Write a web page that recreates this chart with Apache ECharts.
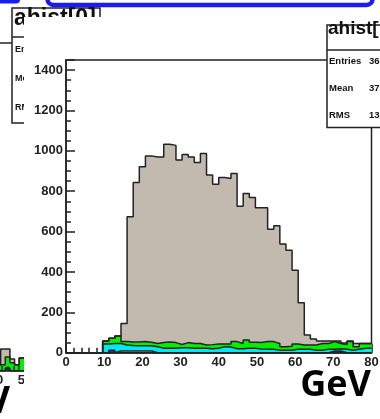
<!DOCTYPE html>
<html><head><meta charset="utf-8">
<script src="https://cdn.jsdelivr.net/npm/echarts@6/dist/echarts.min.js"></script>
<style>html,body{margin:0;padding:0;background:#fff;}#c{width:380px;height:419px;}</style>
</head><body><div id="c"></div>
<script>
// ---- main histogram: 50 bins, 1.6 GeV wide, 0-80 GeV (stack tops) ----
const binStart = 0;
const binWidth = 1.6;
const xTickLabels = [0,10,20,30,40,50,60,70,80];
const yTickLabels = [0,200,400,600,800,1000,1200,1400];
const stackTotal = [0,0,0,0,0,0,58,71,83,145,673,843,921,975,970,970,1033,1027,954,982,
  970,942,987,880,834,868,863,888,726,789,769,718,718,612,629,538,508,409,248,88,
  68,58,58,58,58,48,58,45,46,46];
const stackGreen = [0,0,0,0,0,0,58,71,83,55,53,53,55,52,46,50,53,50,41,50,
  46,46,38,40,43,43,43,55,46,63,52,50,55,55,46,30,32,43,38,38,
  38,46,46,55,46,40,55,30,46,46];
const stackCyan = [0,0,0,0,0,0,43,45,46,38,36,35,35,34,30,22,22,22,25,25,
  22,22,22,20,22,30,28,20,20,22,22,18,17,17,12,12,12,17,17,17,
  12,12,17,17,20,17,12,17,22,22];
const stackLight = [0,0,0,0,0,0,0,0,8,8,8,8,8,8,0,0,0,0,0,0,
  0,0,0,0,0,0,0,0,0,0,0,0,0,0,0,0,0,0,0,0,
  0,0,0,0,0,0,0,0,0,0];
const stackNavy = [0,0,0,0,0,0,0,12,0,0,0,0,0,0,0,0,0,0,0,0,
  0,0,0,0,0,0,0,0,0,0,0,0,0,0,0,0,0,0,0,0,
  0,0,0,8,8,0,0,0,0,0];

// ---- fragment of neighbouring plot (left edge) ----
const fragStart = 40;
const fragTotal = [30,107,107,58,30,63,63];
const fragGreen = [30,30,68,40,30,63,63];
const fragNavy  = [0,0,15,0,0,0,0];

const stats = [["Entries","36"],["Mean","37"],["RMS","13"]];

function toSteps(arr, start, w){
  const pts = arr.map((v,i)=>[+(start+i*w).toFixed(3), v]);
  pts.push([+(start+arr.length*w).toFixed(3), arr[arr.length-1]]);
  return pts;
}
const OUT = '#222';
function histSeries(name, arr, color, xi, z, start){
  return {name, type:'line', step:'end', xAxisIndex:xi, yAxisIndex:xi, z:z,
    data: toSteps(arr, start, binWidth), showSymbol:false, symbol:'none',
    lineStyle:{color:OUT, width:1.5}, areaStyle:{color:color, opacity:1},
    animation:false, silent:true};
}
const FONT = '"Liberation Sans", Arial, sans-serif';
const axisLblStyle = {color:'#222', fontWeight:'bold', fontSize:13, fontFamily:FONT};

const chart = echarts.init(document.getElementById('c'), null, {renderer:'canvas'});
chart.setOption({
  animation:false,
  backgroundColor:'#fff',
  grid:[
    {left:66, right:8.5, top:60, bottom:66.3, show:true, borderColor:OUT, borderWidth:1.5, backgroundColor:'transparent', z:6, outerBoundsMode:'none', containLabel:false},
    {left:-4, width:46.4, top:43, bottom:48, show:false, z:1, outerBoundsMode:'none', containLabel:false}
  ],
  xAxis:[
    {type:'value', gridIndex:0, min:0, max:80, interval:10, z:6,
     axisLine:{onZero:false, lineStyle:{color:OUT, width:1.5}},
     axisTick:{inside:true, length:9, lineStyle:{color:OUT, width:1.5}},
     minorTick:{show:true, splitNumber:5, length:5, lineStyle:{color:OUT, width:1.5}},
     splitLine:{show:false}, minorSplitLine:{show:false},
     axisLabel:Object.assign({margin:3, formatter:v=>xTickLabels.includes(v)?String(v):''}, axisLblStyle)},
    {type:'value', gridIndex:1, min:40, max:56, interval:10, z:1,
     axisLine:{onZero:false, lineStyle:{color:OUT, width:1.5}},
     axisTick:{inside:true, length:9, lineStyle:{color:OUT, width:1.5}},
     minorTick:{show:true, splitNumber:5, length:5, lineStyle:{color:OUT, width:1.5}},
     splitLine:{show:false},
     axisLabel:Object.assign({margin:3, showMinLabel:true, alignMinLabel:'center', hideOverlap:false}, axisLblStyle)}
  ],
  yAxis:[
    {type:'value', gridIndex:0, min:0, max:1450, interval:200, z:6,
     axisLine:{onZero:false, lineStyle:{color:OUT, width:1.5}},
     axisTick:{inside:true, length:9, lineStyle:{color:OUT, width:1.5}},
     minorTick:{show:true, splitNumber:4, length:5, lineStyle:{color:OUT, width:1.5}},
     splitLine:{show:false}, minorSplitLine:{show:false},
     axisLabel:Object.assign({margin:3, showMaxLabel:false, formatter:v=>yTickLabels.includes(v)?String(v):''}, axisLblStyle)},
    {type:'value', gridIndex:1, min:0, max:1600, interval:200, z:1,
     axisLine:{show:false}, axisTick:{show:false}, splitLine:{show:false}, axisLabel:{show:false}}
  ],
  series:[
    histSeries('total', stackTotal, '#c2b9af', 0, 7, binStart),
    histSeries('green', stackGreen, '#00f000', 0, 7, binStart),
    histSeries('cyan', stackCyan, '#00e8f0', 0, 7, binStart),
    histSeries('light', stackLight, '#ececec', 0, 7, binStart),
    histSeries('navy', stackNavy, '#2b2b9c', 0, 7, binStart),
    histSeries('ftotal', fragTotal, '#c2b9af', 1, 1, fragStart),
    histSeries('fgreen', fragGreen, '#00f000', 1, 1, fragStart),
    histSeries('fnavy', fragNavy, '#2b2b9c', 1, 1, fragStart)
  ],
  graphic:[
    {type:'line', z:2, shape:{x1:0, y1:43, x2:14, y2:43}, style:{stroke:OUT, lineWidth:1.5}},
    // left (partly hidden) stats box
    {type:'rect', z:3, shape:{x:12, y:8, width:88, height:115}, style:{fill:'#fff', stroke:OUT, lineWidth:1.5}},
    {type:'line', z:3, shape:{x1:12, y1:37, x2:100, y2:37}, style:{stroke:OUT, lineWidth:1.5}},
    {type:'text', z:3, x:14, y:30, style:{text:'ahist[0]', font:'bold 23px '+FONT, fill:'#111', textAlign:'left', textVerticalAlign:'bottom', verticalAlign:'bottom'}},
    {type:'text', z:3, x:15, y:50, style:{text:'Entries', font:'bold 9px '+FONT, fill:'#111', textAlign:'left', textVerticalAlign:'middle', verticalAlign:'middle'}},
    {type:'text', z:3, x:15, y:79, style:{text:'Mean', font:'bold 9px '+FONT, fill:'#111', textAlign:'left', textVerticalAlign:'middle', verticalAlign:'middle'}},
    {type:'text', z:3, x:15, y:108, style:{text:'RMS', font:'bold 9px '+FONT, fill:'#111', textAlign:'left', textVerticalAlign:'middle', verticalAlign:'middle'}},
    // white pad of the front canvas
    {type:'rect', z:4, shape:{x:24, y:17, width:360, height:410}, style:{fill:'#fff'}},
    // blue slide frames at top
    {type:'rect', z:20, shape:{x:47.5, y:-25, width:325, height:30, r:6}, style:{fill:'none', stroke:'#1c1cf0', lineWidth:4.5}},
    {type:'rect', z:20, shape:{x:-30, y:-20, width:50, height:23.5, r:4}, style:{fill:'#1c1cf0'}},
    // right stats box
    {type:'rect', z:20, shape:{x:327, y:25, width:70, height:102.5}, style:{fill:'#fff', stroke:OUT, lineWidth:1.5}},
    {type:'line', z:20, shape:{x1:327, y1:50, x2:385, y2:50}, style:{stroke:OUT, lineWidth:1.5}},
    {type:'text', z:21, x:328, y:38.5, style:{text:'ahist[', font:'bold 19px '+FONT, fill:'#111', textAlign:'left', textVerticalAlign:'bottom', verticalAlign:'bottom'}},
    ...stats.map((s,i)=>({type:'text', z:21, x:329, y:61+i*27, style:{text:s[0], font:'bold 9.5px '+FONT, fill:'#111', textAlign:'left', textVerticalAlign:'middle', verticalAlign:'middle'}})),
    ...stats.map((s,i)=>({type:'text', z:21, x:369, y:61+i*27, style:{text:s[1], font:'bold 9.5px '+FONT, fill:'#111', textAlign:'left', textVerticalAlign:'middle', verticalAlign:'middle'}})),
    // unit labels
    {type:'text', z:21, x:371, y:404, style:{text:'GeV', font:'bold 36px "Open Sans", sans-serif', fill:'#000', textAlign:'right', textVerticalAlign:'bottom', verticalAlign:'bottom'}},
    {type:'text', z:21, x:10, y:421, style:{text:'GeV', font:'bold 37px "Open Sans", sans-serif', fill:'#000', textAlign:'right', textVerticalAlign:'bottom', verticalAlign:'bottom'}}
  ]
});
</script></body></html>
